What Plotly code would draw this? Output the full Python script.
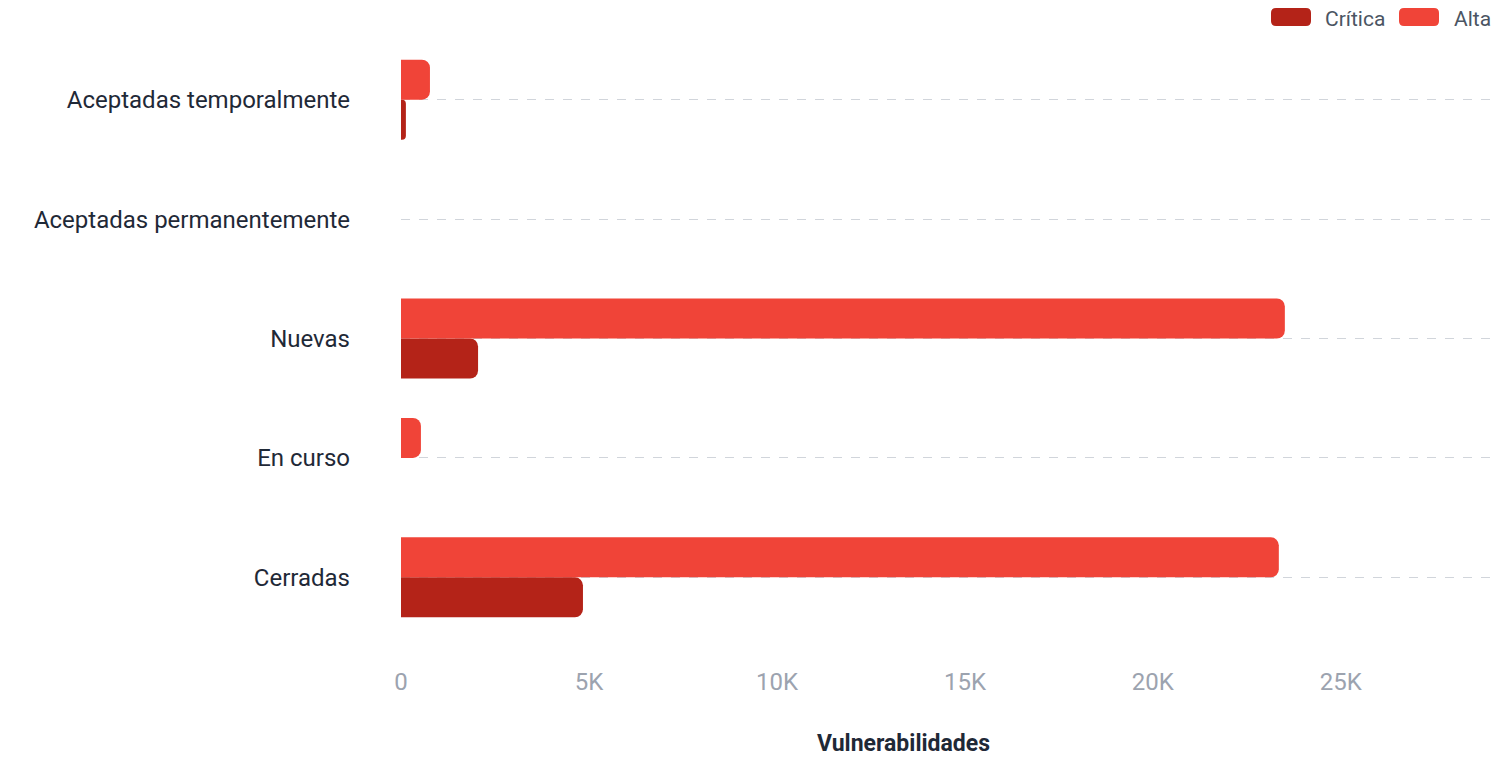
import plotly.graph_objects as go

categories = ["Cerradas", "En curso", "Nuevas", "Aceptadas permanentemente", "Aceptadas temporalmente"]
critica = [4840, 0, 2050, 0, 130]
alta = [23350, 530, 23510, 0, 770]
x_ticks = [0, 5000, 10000, 15000, 20000, 25000]
x_tick_labels = ["0", "5K", "10K", "15K", "20K", "25K"]
series_names = ["Crítica", "Alta"]
series_colors = ["#B42318", "#F04438"]
x_title = "Vulnerabilidades"

W, H = 1512, 762
OFF = 8  # page body offset of the figure
ML, MR, MT, MB = 401 - OFF, 25, 40 - OFF, 133
PW, PH = W - ML - MR, H - MT - MB


def px_x(x):
    return (x - OFF - ML) / PW


def px_y(y):
    return (H - MB - (y - OFF)) / PH


def rounded_rect(x0, y0, x1, y1, r):
    pts = [
        f"M{px_x(x0 + r)},{px_y(y0)}",
        f"L{px_x(x1 - r)},{px_y(y0)}",
        f"Q{px_x(x1)},{px_y(y0)} {px_x(x1)},{px_y(y0 + r)}",
        f"L{px_x(x1)},{px_y(y1 - r)}",
        f"Q{px_x(x1)},{px_y(y1)} {px_x(x1 - r)},{px_y(y1)}",
        f"L{px_x(x0 + r)},{px_y(y1)}",
        f"Q{px_x(x0)},{px_y(y1)} {px_x(x0)},{px_y(y1 - r)}",
        f"L{px_x(x0)},{px_y(y0 + r)}",
        f"Q{px_x(x0)},{px_y(y0)} {px_x(x0 + r)},{px_y(y0)}",
        "Z",
    ]
    return " ".join(pts)


fig = go.Figure()
fig.add_trace(go.Bar(y=categories, x=critica, orientation="h", name=series_names[0],
                     marker=dict(color=series_colors[0], line=dict(width=0))))
fig.add_trace(go.Bar(y=categories, x=alta, orientation="h", name=series_names[1],
                     marker=dict(color=series_colors[1], line=dict(width=0))))

# custom legend (rounded swatches) in the top-right corner
legend_items = [(1271, 1324), (1399, 1453)]
shapes, annotations = [], []
for (sx, tx), name, color in zip(legend_items, series_names, series_colors):
    shapes.append(dict(type="path", xref="paper", yref="paper",
                       path=rounded_rect(sx, 8, sx + 40, 26, 5),
                       fillcolor=color, line=dict(width=0)))
    annotations.append(dict(xref="paper", yref="paper", x=px_x(tx), y=px_y(19),
                            xanchor="left", yanchor="middle", showarrow=False, borderpad=0,
                            text=name, font=dict(size=21, color="#4b5563")))

# x axis title
annotations.append(dict(xref="paper", yref="paper", x=px_x(903), y=px_y(743),
                        xanchor="center", yanchor="middle", showarrow=False,
                        text=f"<b>{x_title}</b>", font=dict(size=23, color="#1f2937")))

fig.update_layout(
    width=W, height=H,
    paper_bgcolor="white", plot_bgcolor="white",
    barmode="group", bargap=0.33, bargroupgap=0,
    barcornerradius=8,
    showlegend=False,
    shapes=shapes, annotations=annotations,
    font=dict(family="Roboto", size=24, color="#1f2937"),
    margin=dict(l=ML, r=MR, t=MT, b=MB, autoexpand=False),
    xaxis=dict(range=[0, 29100], tickvals=x_ticks, ticktext=x_tick_labels,
               showgrid=False, zeroline=False, showline=False, automargin=False,
               tickfont=dict(size=24, color="#9ca3af"), ticklabelstandoff=28),
    yaxis=dict(categoryorder="array", categoryarray=categories, automargin=False,
               showgrid=True, gridcolor="#d1d5db", griddash="dash", gridwidth=1,
               zeroline=False, showline=False,
               tickfont=dict(size=24, color="#1f2937"), ticklabelstandoff=50),
)

fig.write_html("out.html")
